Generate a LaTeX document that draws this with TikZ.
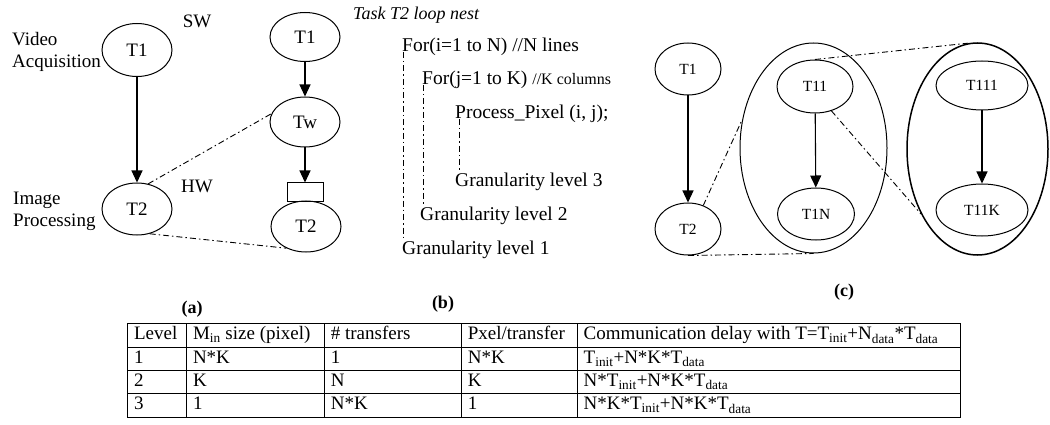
\documentclass[tikz,border=0pt]{standalone}
\usepackage{fontspec}
\setmainfont{Liberation Serif}
\usepackage{array}
\usetikzlibrary{arrows.meta,shapes.geometric}

\begin{document}
\begin{tikzpicture}[x=1pt,y=-1pt,
  task/.style={draw,ellipse,line width=1pt,inner sep=0pt,font=\fontsize{19}{22}\selectfont},
  ctask/.style={task,font=\fontsize{15.5}{18}\selectfont},
  flow/.style={line width=1.1pt,-{Triangle[length=12pt,width=11pt]}},
  link/.style={line width=0.9pt,dash pattern=on 6pt off 3pt on 1.5pt off 3pt},
  lbl/.style={inner sep=0pt,font=\fontsize{19}{22}\selectfont},
  code/.style={inner sep=0pt,anchor=base west,font=\fontsize{19.5}{22}\selectfont},
  figlbl/.style={inner sep=0pt,font=\fontsize{18}{21}\selectfont\bfseries}]
\useasboundingbox (0,0) rectangle (1050,425);

% (a) SW / HW partitioning
\node[task,minimum width=70pt,minimum height=53pt] (t1a) at (137,50) {T1};
\node[task,minimum width=70pt,minimum height=52pt] (t2a) at (137,209) {T2};
\draw[flow] (t1a) -- (t2a);
\node[lbl,align=left,anchor=north west] (vidlbl) at (12,32) {Video\\Acquisition};
\node[lbl,align=left,anchor=north west] (imglbl) at (13,192) {Image\\Processing};
\node[lbl] (swlbl) at (197,21) {SW};
\node[lbl] (hwlbl) at (197,186) {HW};

\node[task,minimum width=70pt,minimum height=49pt] (t1m) at (305,37) {T1};
\node[task,minimum width=70pt,minimum height=50pt] (tw) at (305,122) {Tw};
\node[draw,line width=1pt,minimum width=36pt,minimum height=18pt,inner sep=0pt] (buf) at (305,192) {};
\node[task,minimum width=70pt,minimum height=51pt] (t2m) at (306,226.5) {T2};
\draw[flow] (t1m) -- (tw);
\draw[flow] (tw) -- (buf);
\draw[link] (t2a.66) -- (tw.166);
\draw[link] (t2a.-63) -- (t2m.-132);

% (b) loop nest
\node[inner sep=0pt,anchor=base west,font=\fontsize{18}{21}\selectfont\itshape] (nest) at (353,20) {Task T2 loop nest};
\node[code] (fori) at (402,52) {For(i=1 to N) //N lines};
\node[code] (forj) at (422,85) {For(j=1 to K) {\fontsize{16}{19}\selectfont//K columns}};
\node[code] (pix) at (455,119) {Process\_Pixel (i, j);};
\node[code] (gran3) at (455,186) {Granularity level 3};
\node[code] (gran2) at (420,220) {Granularity level 2};
\node[code] (gran1) at (402,254) {Granularity level 1};
\draw[link] ([xshift=1pt]fori.base west) -- ([xshift=1pt]gran1.north west);
\draw[link] ([xshift=1pt]forj.base west) -- ([xshift=3pt]gran2.north west);
\draw[link] ([xshift=4pt]pix.base west) -- ([xshift=4pt]gran3.north west);

% (c) hierarchy
\node[ctask,minimum width=66pt,minimum height=52pt] (t1c) at (688,69) {T1};
\node[ctask,minimum width=66pt,minimum height=52pt] (t2c) at (688,229) {T2};
\draw[flow] (t1c) -- (t2c);
\node[draw,ellipse,line width=1pt,minimum width=147pt,minimum height=210pt] (grp1) at (813.5,148) {};
\node[ctask,minimum width=76pt,minimum height=53pt] (t11) at (815,86.5) {T11};
\node[ctask,minimum width=77pt,minimum height=52pt] (t1n) at (816,214) {T1N};
\draw[flow] (t11) -- (t1n);
\node[draw,ellipse,line width=1.5pt,minimum width=141pt,minimum height=212pt] (grp2) at (977.5,149) {};
\node[ctask,minimum width=92pt,minimum height=49pt] (t111) at (982,85.5) {T111};
\node[ctask,minimum width=92pt,minimum height=52pt] (t11k) at (982,210) {T11K};
\draw[flow] (t111) -- (t11k);
\draw[link] (t2c.57) -- (grp1.158);
\draw[link] (t2c.south) -- (grp1.south);
\draw[link] (t11.north) -- (grp2.95);
\draw[link] (t11.-56) -- (grp2.229);

\node[figlbl] (alab) at (192,309) {(a)};
\node[figlbl] (blab) at (443,304) {(b)};
\node[figlbl] (clab) at (844,292) {(c)};

% table of granularity levels
\node[inner sep=0pt,anchor=north west,font=\fontsize{19}{21}\selectfont] (levels) at (127,323) {%
\setlength{\tabcolsep}{6pt}\setlength{\arrayrulewidth}{0.9pt}%
\renewcommand{\arraystretch}{1.07}%
\begin{tabular}{|p{46pt}|p{125pt}|p{124pt}|p{103pt}|p{370pt}|}
\hline
Level & M\textsubscript{in} size (pixel) & \# transfers & Pxel/transfer & Communication delay with T=T\textsubscript{init}+N\textsubscript{data}*T\textsubscript{data}\\ \hline
1 & N*K & 1 & N*K & T\textsubscript{init}+N*K*T\textsubscript{data}\\ \hline
2 & K & N & K & N*T\textsubscript{init}+N*K*T\textsubscript{data}\\ \hline
3 & 1 & N*K & 1 & N*K*T\textsubscript{init}+N*K*T\textsubscript{data}\\ \hline
\end{tabular}};
\end{tikzpicture}
\end{document}
